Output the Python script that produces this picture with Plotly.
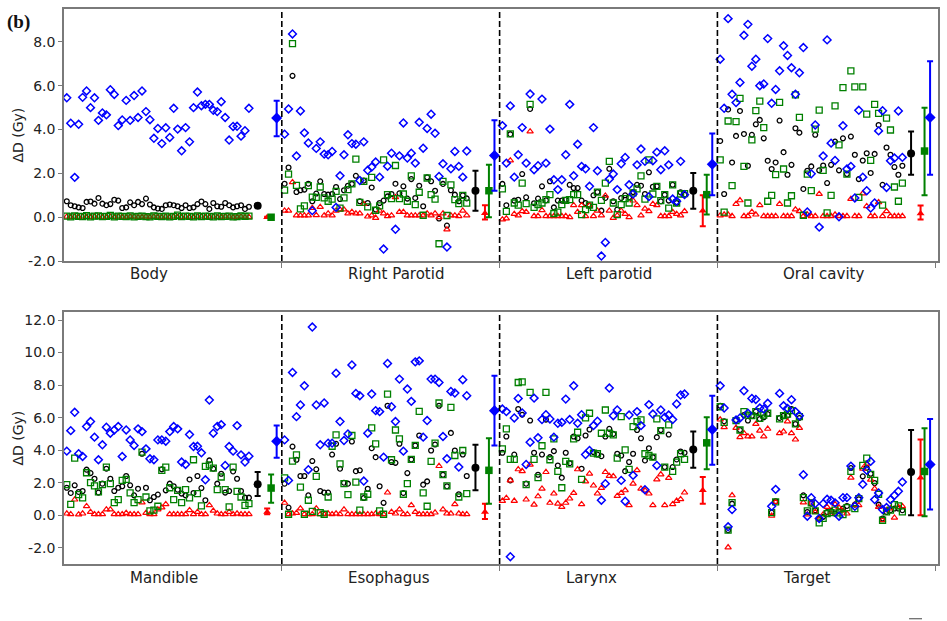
import plotly.graph_objects as go

# ---------------- data ----------------
organs_top = ["Body", "Right Parotid", "Left parotid", "Oral cavity"]
organs_bot = ["Mandible", "Esophagus", "Larynx", "Target"]

top_ticks = [-2, 0, 2, 4, 6, 8]
top_ticktext = ["-2.0", "0.0", "2.0", "4.0", "6.0", "8.0"]
bot_ticks = [-2, 0, 2, 4, 6, 8, 10, 12]
bot_ticktext = ["-2.0", "0.0", "2.0", "4.0", "6.0", "8.0", "10.0", "12.0"]

body_blue = [5.45,4.29,1.82,4.24,5.47,5.76,5.0,5.45,4.42,4.76,4.67,5.82,5.6,4.18,4.44,5.33,4.42,5.55,4.55,5.76,4.82,4.45,3.6,4.05,3.36,4.08,3.64,4.97,4.02,3.03,4.09,3.44,5.0,5.71,5.09,5.15,5.15,4.88,4.82,5.27,4.55,3.52,4.14,4.15,3.7,3.95,4.97]
body_black = [0.73,0.55,0.5,0.45,0.42,0.7,0.72,0.62,0.88,0.62,0.55,0.6,0.8,0.76,0.42,0.45,0.68,0.55,0.7,0.6,0.85,0.58,0.45,0.4,0.38,0.55,0.58,0.55,0.5,0.42,0.55,0.42,0.45,0.6,0.72,0.6,0.38,0.65,0.5,0.48,0.65,0.55,0.45,0.5,0.55,0.38,0.48]
body_red = [0.02,0.0,0.03,0.0,0.02,0.01,0.0,0.03,0.02,0.0,0.01,0.02,0.0,0.03,0.01,0.0,0.02,0.02,0.0,0.01,0.03,0.0,0.02,0.01,0.0,0.02,0.0,0.03,0.01,0.0,0.02,0.01,0.0,0.02,0.03,0.0,0.01,0.02,0.0,0.01,0.03,0.02,0.0,0.01,0.02,0.0,0.01]
body_green = [0.05,0.02,0.06,0.04,0.03,0.07,0.02,0.05,0.06,0.03,0.04,0.08,0.02,0.05,0.04,0.03,0.06,0.02,0.04,0.05,0.03,0.02,0.06,0.04,0.03,0.05,0.02,0.04,0.1,0.03,0.05,0.04,0.02,0.06,0.03,0.05,0.04,0.02,0.06,0.03,0.04,0.05,0.02,0.03,0.06,0.04,0.05]

rp_blue = [3.79,4.94,8.36,2.79,4.85,3.85,3.39,0.3,3.14,3.44,2.88,2.85,3.0,0.45,1.89,2.85,3.76,3.36,3.33,1.68,3.44,2.14,2.29,2.52,1.83,-1.45,2.33,2.92,-0.55,2.8,4.3,2.7,2.92,2.47,4.33,3.15,4.05,4.7,3.83,1.86,2.44,-1.36,2.21,3.0,2.32,1.83,3.02]
rp_black = [1.53,2.27,6.45,1.15,1.23,1.26,1.53,0.73,1.08,1.64,1.06,1.03,1.06,1.38,0.83,1.23,1.44,1.52,1.89,0.73,1.67,0.65,1.36,0.35,0.65,0.76,0.95,1.06,1.53,1.09,1.41,0.85,1.74,0.88,1.44,0.5,1.82,1.64,1.21,-0.06,1.52,-0.38,1.23,1.03,0.73,1.0,0.86]
rp_green = [1.24,1.97,7.92,1.45,0.38,0.52,1.44,0.92,0.91,1.38,0.88,0.73,0.83,1.18,0.42,0.88,1.26,1.52,2.65,0.68,1.64,0.47,1.82,0.32,0.52,2.62,1.03,0.85,2.36,0.85,1.06,0.73,1.89,0.58,1.14,0.09,1.79,1.03,0.83,-1.21,1.64,0.08,1.48,0.8,0.62,1.0,0.64]
rp_red = [0.3,0.3,1.6,0.08,0.08,0.08,0.08,0.42,0.09,0.47,0.08,0.17,0.08,0.3,0.35,0.35,0.17,0.24,0.17,0.17,0.6,0.03,0.08,-0.03,0.3,0.17,0.05,0.08,0.91,0.24,0.24,0.08,0.08,0.08,0.08,0.08,0.17,0.08,0.17,0.0,0.17,-0.56,0.08,0.08,0.05,0.3,0.08]

lp_blue = [4.18,2.47,5.08,1.83,2.85,4.09,2.47,5.62,2.17,2.35,5.39,2.47,4.02,1.71,1.26,1.71,2.85,5.15,1.89,3.33,2.32,2.21,1.41,4.09,2.12,-1.77,-1.15,1.74,1.97,1.26,2.44,2.73,1.48,1.06,2.39,3.11,2.55,0.94,2.58,2.97,2.17,3.03,2.39,0.83,0.73,2.55,1.03]
lp_black = [1.52,0.55,3.79,0.76,0.8,1.97,0.91,4.94,0.64,0.85,1.41,0.77,1.64,0.45,0.76,0.76,0.8,1.48,1.33,1.33,0.76,0.65,0.53,1.0,1.15,0.3,0.88,2.21,0.73,0.35,0.88,1.0,0.91,1.15,1.48,1.44,1.06,2.05,1.39,1.41,0.73,1.03,0.76,1.48,0.65,1.14,1.03]
lp_green = [1.29,0.27,3.8,0.65,0.55,1.56,0.62,5.15,0.45,0.58,0.65,0.8,1.03,0.17,0.23,0.58,0.77,0.8,1.03,1.03,0.12,0.35,0.55,0.45,1.15,0.77,1.56,2.55,0.65,0.12,0.58,0.85,0.65,1.11,1.29,1.89,0.83,2.62,1.06,1.41,0.76,1.03,0.42,1.48,0.65,1.06,1.08]
lp_red = [-0.1,-0.06,2.59,0.15,0.08,0.27,0.24,3.91,0.05,0.05,0.32,0.05,0.05,0.05,0.05,0.05,0.05,0.0,0.55,0.24,0.55,0.05,0.55,0.05,0.3,0.08,0.98,0.3,-0.03,0.08,0.3,0.15,0.0,0.76,0.55,0.08,0.39,0.27,0.6,0.55,0.05,0.05,0.05,0.24,0.15,0.08,0.27]

oc_blue = [7.21,4.97,9.06,5.61,5.23,6.15,8.3,8.8,6.89,7.21,6.0,6.08,8.15,5.2,5.83,6.68,7.82,7.38,6.82,5.61,6.59,7.74,0.24,1.98,4.21,-0.45,2.79,8.09,3.38,2.59,0.02,4.17,2.2,2.32,0.88,4.88,1.83,1.21,0.42,0.65,3.94,4.86,1.36,2.58,2.7,4.85,2.73]
oc_black = [3.48,1.06,4.92,2.5,3.71,4.85,3.8,2.35,3.76,4.24,4.44,3.6,2.58,2.2,2.5,4.41,2.97,1.94,2.39,4.06,3.86,1.29,2.12,2.32,3.76,2.14,2.36,1.56,2.39,3.45,2.14,3.6,1.97,3.68,2.85,1.74,2.59,2.92,2.02,2.89,4.21,1.48,3.18,2.85,2.29,1.94,2.35]
oc_green = [2.62,0.23,4.39,1.44,4.36,5.42,2.32,0.65,3.53,4.86,5.3,4.09,0.73,1.0,1.94,5.24,2.2,0.65,0.98,5.58,4.56,0.09,1.97,1.21,4.02,4.89,2.14,0.2,1.0,5.08,3.3,5.91,1.97,6.68,5.95,0.91,5.95,4.7,2.59,5.15,4.74,0.55,4.52,3.98,1.38,0.73,1.56]
oc_red = [0.08,0.12,0.12,0.05,0.6,0.77,0.05,0.05,0.24,0.12,0.55,0.05,0.05,0.05,0.05,0.6,0.05,0.05,0.05,0.35,0.27,0.05,0.12,0.05,0.05,1.06,0.05,0.05,0.05,0.12,0.05,0.05,0.05,0.83,0.05,0.05,1.08,0.5,0.05,0.05,0.68,0.05,0.27,0.05,0.05,0.05,0.05]

md_blue = [3.94,5.2,6.33,3.78,3.61,5.45,5.76,4.8,3.41,4.33,5.41,5.04,5.24,5.45,3.61,5.24,4.63,4.29,5.31,5.14,4.08,3.47,3.41,4.63,4.63,4.55,5.14,5.45,5.31,3.27,3.12,4.96,4.22,4.24,3.84,2.18,7.08,5.04,5.45,5.57,3.06,4.22,3.94,5.51,3.71,3.27,3.63]
md_black = [1.69,1.37,1.84,1.43,1.49,2.8,2.59,2.24,1.39,1.94,2.86,2.24,1.49,1.69,1.78,2.41,1.84,1.22,1.63,3.78,1.69,0.92,1.12,1.27,2.82,1.53,1.94,1.78,1.57,1.33,1.22,2.2,1.37,2.41,1.67,0.92,3.37,2.86,1.94,2.55,1.39,1.49,2.69,2.24,1.49,1.08,1.08]
md_green = [1.88,0.67,3.51,1.27,1.06,2.61,2.0,1.8,1.43,1.88,2.96,1.94,0.78,0.96,2.14,2.2,1.37,0.78,0.96,3.88,1.12,0.27,0.31,0.55,2.76,2.96,1.69,0.96,1.53,0.78,1.57,1.06,3.41,1.33,0.57,3.0,3.1,2.9,1.57,2.35,1.57,0.51,2.96,1.47,1.12,0.61,0.71]
md_red = [0.1,0.06,0.96,0.04,0.1,0.55,0.2,0.06,0.06,0.06,0.35,0.35,0.06,0.06,0.06,0.14,0.06,0.06,0.06,0.78,0.14,0.06,0.06,0.35,0.47,0.67,0.06,0.06,0.06,0.06,0.06,0.31,0.06,0.2,0.06,0.06,0.61,0.27,0.1,0.06,0.06,0.2,0.06,0.1,0.06,0.06,0.06]

es_blue = [4.63,2.14,8.78,6.06,6.78,7.96,2.8,11.57,6.78,4.33,6.9,4.43,4.43,8.73,5.76,4.59,5.0,9.24,7.49,7.35,2.1,5.04,7.45,6.43,6.37,3.57,9.33,6.67,5.76,8.37,3.94,7.76,7.0,9.43,9.49,4.8,5.82,8.37,8.37,8.16,4.84,3.47,7.61,7.51,2.96,8.33,7.35]
es_black = [1.94,0.47,4.22,3.41,2.41,2.41,1.22,3.33,2.82,1.49,1.39,1.39,3.73,4.39,2.86,2.0,1.94,4.53,2.71,2.76,1.06,1.63,4.12,3.57,1.78,0.76,6.73,3.27,3.22,4.39,1.37,2.59,3.43,4.29,4.9,1.88,2.08,3.98,4.35,6.73,2.49,1.78,5.06,3.98,1.29,3.73,2.41]
es_green = [2.29,0.06,3.33,3.71,1.73,0.06,0.92,0.24,2.39,0.16,0.06,1.12,4.24,4.94,3.16,1.94,1.27,4.9,2.04,0.31,1.12,1.29,5.37,4.39,0.27,0.06,7.45,3.41,5.24,4.69,1.29,1.94,3.43,4.29,6.39,1.37,0.55,3.31,4.43,6.9,2.49,1.8,6.63,3.67,1.12,3.98,1.33]
es_red = [0.76,0.06,0.1,0.14,0.41,0.06,0.06,0.06,0.41,0.06,0.06,0.1,0.06,0.1,0.06,0.35,0.06,0.06,0.06,0.06,0.06,0.06,0.06,0.1,0.06,0.06,1.39,0.2,0.1,0.35,0.06,0.06,0.61,0.2,0.06,0.06,0.06,0.06,0.16,3.02,0.35,0.1,0.1,0.67,0.1,0.06,0.06]

lx_blue = [6.53,6.37,-2.55,5.98,7.18,6.29,3.12,4.49,7.2,4.76,5.88,6.18,5.92,4.8,5.65,5.71,7.14,5.88,7.96,5.65,6.18,3.73,3.98,5.51,5.78,0.92,1.94,7.82,6.12,6.47,2.14,0.86,6.16,2.45,6.37,5.51,1.57,6.8,6.22,3.06,6.47,6.02,6.16,5.88,6.84,7.39,7.45]
lx_black = [3.84,4.84,2.14,3.73,6.53,6.18,1.94,5.82,3.84,2.49,3.73,5.88,3.57,3.94,3.06,2.31,3.84,3.2,4.84,4.73,2.86,4.9,5.27,3.88,3.73,3.63,4.84,5.31,5.0,3.78,3.67,2.71,3.27,3.78,5.24,4.73,3.37,4.12,3.57,4.8,5.24,2.96,4.96,2.96,3.43,3.92,3.84]
lx_green = [4.08,5.31,3.43,3.43,8.16,8.2,1.88,7.55,3.43,2.31,4.27,7.55,3.41,4.69,2.69,1.69,3.31,3.16,4.69,5.1,2.2,5.98,6.27,3.82,3.78,5.04,6.47,5.04,4.94,3.51,6.06,4.02,2.82,5.45,5.76,5.86,3.78,3.67,3.57,5.92,5.2,2.96,5.55,2.69,3.27,3.78,3.43]
lx_red = [0.88,1.06,2.14,0.88,2.82,2.71,0.96,3.1,0.65,1.16,1.63,2.65,0.76,1.33,0.71,0.51,0.76,1.02,1.37,2.82,0.67,2.08,2.55,1.82,1.33,1.67,2.65,2.41,2.39,1.18,1.37,1.53,0.61,1.94,2.76,1.63,1.53,1.33,0.61,2.2,2.51,0.61,2.29,0.67,0.88,0.98,1.39]

tg_blue = [7.96,6.59,-0.71,0.35,5.86,5.98,7.65,6.27,7.18,7.12,6.59,6.53,6.88,0.55,1.59,7.49,6.73,6.57,7.1,6.37,6.12,2.49,-0.06,1.08,0.71,-0.2,0.71,0.98,0.92,0.76,-0.06,1.08,1.08,3.02,0.55,1.08,1.9,2.76,3.31,0.96,1.37,0.35,0.47,0.96,1.22,1.47,2.04]
tg_black = [6.73,5.78,-0.92,0.71,5.86,5.24,6.16,5.82,6.12,6.37,5.92,6.02,6.22,0.16,0.86,5.98,6.12,6.12,6.53,5.61,5.98,1.22,0.2,0.71,0.31,-0.2,-0.1,0.2,0.27,0.1,0.24,0.41,0.57,2.9,0.65,0.98,2.39,2.92,2.55,1.98,0.65,-0.2,0.2,0.31,0.41,0.41,0.31]
tg_green = [6.67,5.71,-0.92,0.78,5.82,5.24,6.37,6.16,6.12,6.37,5.96,6.16,6.27,0.16,0.82,5.92,6.12,6.22,6.43,5.61,6.06,1.08,0.27,0.76,0.27,-0.47,-0.2,0.1,0.16,0.31,0.14,0.04,0.47,2.69,0.41,1.02,3.06,3.51,2.51,2.14,1.29,-0.31,0.2,0.31,0.65,0.57,0.2]
tg_red = [5.88,5.41,-1.98,1.22,5.37,4.8,5.04,4.84,4.84,5.61,5.2,4.84,5.31,-0.04,0.82,5.04,5.14,5.76,5.04,4.65,5.37,0.78,0.04,0.76,0.2,-0.27,0.04,0.51,0.1,0.67,0.47,0.27,0.1,2.31,0.65,0.61,2.86,3.16,2.18,1.63,0.51,-0.31,0.31,0.41,-0.16,0.51,0.55]

# summary (mean, lower end, upper end) per organ: Body, RP, LP, OC | Mandible, Esophagus, Larynx, Target
black_mean = [0.52, 1.21, 1.21, 2.91, 1.9, 2.92, 4.04, 2.65]
black_lo   = [0.44, 0.3, 0.39, 1.94, 1.18, 1.53, 2.92, 0.0]
black_hi   = [0.6, 2.12, 2.02, 3.91, 2.65, 4.33, 5.14, 5.24]
red_mean   = [0.0, 0.18, 0.3, 0.17, 0.2, 0.2, 1.53, 2.31]
red_lo     = [-0.02, -0.1, -0.41, -0.1, 0.06, -0.24, 0.71, 0.0]
red_hi     = [0.02, 0.55, 1.0, 0.53, 0.41, 0.71, 2.35, 4.65]
green_mean = [0.0, 1.21, 1.03, 3.02, 1.67, 2.76, 4.45, 2.69]
green_lo   = [-0.02, 0.0, 0.12, 1.0, 0.76, 0.71, 2.82, -0.06]
green_hi   = [0.04, 2.39, 1.94, 5.0, 2.51, 4.73, 6.02, 5.35]
blue_mean  = [4.53, 2.82, 2.42, 4.55, 4.55, 6.43, 5.27, 3.12]
blue_lo    = [3.7, 1.21, 1.0, 1.94, 3.53, 4.29, 3.1, 0.35]
blue_hi    = [5.32, 4.42, 3.82, 7.12, 5.51, 8.57, 7.35, 5.92]

top_series = {
    "black": [body_black, rp_black, lp_black, oc_black],
    "red": [body_red, rp_red, lp_red, oc_red],
    "green": [body_green, rp_green, lp_green, oc_green],
    "blue": [body_blue, rp_blue, lp_blue, oc_blue],
}
bot_series = {
    "black": [md_black, es_black, lx_black, tg_black],
    "red": [md_red, es_red, lx_red, tg_red],
    "green": [md_green, es_green, lx_green, tg_green],
    "blue": [md_blue, es_blue, lx_blue, tg_blue],
}
summary = {
    "black": (black_mean, black_lo, black_hi),
    "red": (red_mean, red_lo, red_hi),
    "green": (green_mean, green_lo, green_hi),
    "blue": (blue_mean, blue_lo, blue_hi),
}

# ---------------- styling ----------------
SEG = 55
COLORS = {"black": "#000000", "red": "#ff0000", "green": "#008000", "blue": "#0000ff"}
OPEN = {"black": ("circle-open", 4.8, 1.3), "red": ("triangle-up-open", 5.6, 1.2),
        "green": ("square-open", 6.0, 1.3), "blue": ("diamond-open", 6.0, 1.5)}
FILLED = {"black": ("circle", 8), "red": ("triangle-up", 7), "green": ("square", 7.5), "blue": ("diamond", 8.5)}
SUMX = {"black": 48.9, "red": 51.3, "green": 52.3, "blue": 53.7}

fig = go.Figure()

for panel, series, xa, ya, off in [("top", top_series, "x", "y", 0), ("bot", bot_series, "x2", "y2", 4)]:
    for name in ["black", "red", "green", "blue"]:
        xs, ys = [], []
        for k, vals in enumerate(series[name]):
            xs += [k * SEG + 0.7 + i for i in range(len(vals))]
            ys += vals
        sym, sz, lw = OPEN[name]
        fig.add_trace(go.Scatter(x=xs, y=ys, mode="markers", xaxis=xa, yaxis=ya,
                                 marker=dict(symbol=sym, size=sz, color=COLORS[name],
                                             line=dict(width=lw, color=COLORS[name])),
                                 showlegend=False, hoverinfo="skip"))
    for name in ["black", "red", "green", "blue"]:
        m, lo, hi = summary[name]
        mm = m[off:off + 4]
        ll = lo[off:off + 4]
        hh = hi[off:off + 4]
        sym, sz = FILLED[name]
        fig.add_trace(go.Scatter(
            x=[k * SEG + SUMX[name] for k in range(4)], y=mm, mode="markers",
            xaxis=xa, yaxis=ya,
            marker=dict(symbol=sym, size=sz, color=COLORS[name], line=dict(width=0)),
            error_y=dict(type="data", symmetric=False,
                         array=[h - v for h, v in zip(hh, mm)],
                         arrayminus=[v - l for v, l in zip(mm, ll)],
                         color=COLORS[name], thickness=2, width=3),
            showlegend=False, hoverinfo="skip"))

FRAME = "#7a7a7a"
tickfont = dict(family="DejaVu Sans", size=14, color="#222")
common_x = dict(range=[0, 220.7], showline=True, mirror=True, linecolor=FRAME, linewidth=1.5,
                showgrid=False, zeroline=False, tickvals=[55, 110, 165, 220], ticks="outside",
                ticklen=5, tickcolor=FRAME, showticklabels=False)
common_y = dict(showline=True, mirror=True, linecolor=FRAME, linewidth=1.5, showgrid=False,
                zeroline=False, ticks="outside", ticklen=4, tickcolor=FRAME, tickfont=tickfont)

TOP_DOM = [0.5458, 1.0]
BOT_DOM = [0.0, 0.4542]
fig.update_layout(
    width=947, height=621,
    margin=dict(l=64, r=8, t=7, b=57),
    paper_bgcolor="white", plot_bgcolor="white",
    xaxis=dict(domain=[0, 1], anchor="y", **common_x),
    yaxis=dict(domain=TOP_DOM, anchor="x", range=[-2, 9.5], tickvals=top_ticks,
               ticktext=top_ticktext, **common_y),
    xaxis2=dict(domain=[0, 1], anchor="y2", **common_x),
    yaxis2=dict(domain=BOT_DOM, anchor="x2", range=[-3, 12.5], tickvals=bot_ticks,
                ticktext=bot_ticktext, **common_y),
)

shapes = []
for xr, yr in [("x", "y domain"), ("x2", "y2 domain")]:
    for k in range(1, 4):
        shapes.append(dict(type="line", xref=xr, yref=yr, x0=k * SEG, x1=k * SEG, y0=0, y1=1,
                           line=dict(color="black", width=1.6, dash="6px,3px")))
shapes.append(dict(type="line", xref="paper", yref="paper", x0=0.9669, x1=0.9817,
                   y0=-0.0987, y1=-0.0987, line=dict(color="#444", width=1)))
fig.update_layout(shapes=shapes)

ann = []
for k, name in enumerate(organs_top):
    ann.append(dict(text=name, x=k * SEG + 16.15, xref="x", y=0.5224, yref="paper",
                    xanchor="left", yanchor="middle", showarrow=False,
                    font=dict(family="DejaVu Sans", size=15, color="#222")))
for k, name in enumerate(organs_bot):
    ann.append(dict(text=name, x=k * SEG + 16.15, xref="x2", y=-0.0251, yref="paper",
                    xanchor="left", yanchor="middle", showarrow=False,
                    font=dict(family="DejaVu Sans", size=15, color="#222")))
for yy in [0.772, 0.226]:
    ann.append(dict(text="ΔD (Gy)", x=-0.0526, xref="paper", y=yy, yref="paper",
                    textangle=-90, xanchor="center", yanchor="middle", showarrow=False,
                    font=dict(family="DejaVu Sans", size=14, color="#222")))
ann.append(dict(text="<b>(b)</b>", x=-0.0526, xref="paper", y=0.9767, yref="paper",
                xanchor="center", yanchor="middle", showarrow=False,
                font=dict(family="Liberation Serif", size=19, color="#111")))
fig.update_layout(annotations=ann)

fig.write_html("out.html")
